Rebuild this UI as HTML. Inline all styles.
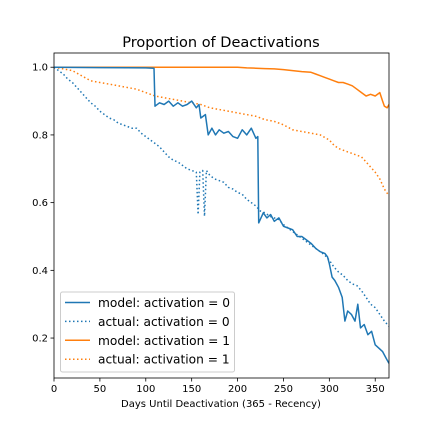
<!DOCTYPE html>
<html><head><meta charset="utf-8"><style>
body{margin:0;background:#fff;}
svg text{font-family:"DejaVu Sans","Liberation Sans",sans-serif;fill:#000;}
</style></head><body>
<svg id="chart" width="432" height="432" xmlns="http://www.w3.org/2000/svg">
<rect width="432" height="432" fill="#fff"/>
<text x="221" y="47" font-size="14.5" text-anchor="middle">Proportion of Deactivations</text>
<g id="series"></g>
<g id="axes"></g>
<text x="221" y="407" font-size="10" text-anchor="middle">Days Until Deactivation (365 - Recency)</text>
<g id="legend"></g>
</svg>
<script>
const xTicks=[0,50,100,150,200,250,300,350];
const yTicks=[0.2,0.4,0.6,0.8,1.0];
const yTickLabels=["0.2","0.4","0.6","0.8","1.0"];
const model0Days=[0,50,100,109,110,115,120,125,130,135,140,145,150,155,158,160,165,168,172,176,180,185,190,195,200,205,210,215,220,222,223,228,232,236,240,245,250,255,260,265,270,275,280,285,290,295,298,300,303,306,310,314,317,320,324,328,331,334,338,342,346,350,354,358,362,365];
const model0Vals=[1.0,0.999,0.998,0.997,0.885,0.895,0.89,0.9,0.885,0.895,0.885,0.89,0.9,0.88,0.89,0.85,0.86,0.8,0.82,0.8,0.815,0.805,0.81,0.795,0.79,0.815,0.8,0.82,0.79,0.795,0.54,0.57,0.555,0.565,0.545,0.555,0.53,0.525,0.52,0.5,0.5,0.49,0.48,0.465,0.455,0.45,0.44,0.42,0.38,0.37,0.35,0.32,0.25,0.28,0.27,0.25,0.3,0.23,0.24,0.21,0.22,0.18,0.17,0.16,0.14,0.125];
const actual0Days=[0,5,10,15,20,25,30,35,40,45,50,55,60,65,70,75,80,85,90,95,100,105,110,115,120,125,130,135,140,145,150,155,157,159,162,164,166,170,175,180,185,190,195,200,205,210,215,220,225,230,235,240,245,250,255,260,265,270,275,280,285,290,295,300,305,310,315,320,325,330,335,340,345,350,355,360,365];
const actual0Vals=[1.0,0.99,0.98,0.965,0.955,0.94,0.925,0.91,0.895,0.885,0.87,0.86,0.85,0.845,0.835,0.83,0.825,0.82,0.82,0.805,0.795,0.785,0.775,0.765,0.75,0.735,0.725,0.72,0.71,0.7,0.695,0.69,0.565,0.69,0.695,0.56,0.695,0.68,0.67,0.665,0.66,0.645,0.64,0.63,0.625,0.61,0.6,0.59,0.575,0.57,0.56,0.555,0.55,0.535,0.525,0.515,0.505,0.495,0.485,0.475,0.465,0.455,0.445,0.43,0.41,0.395,0.385,0.37,0.36,0.355,0.34,0.32,0.3,0.29,0.27,0.25,0.235];
const model1Days=[0,100,200,210,220,230,240,250,260,270,280,285,290,295,300,305,310,315,320,325,330,335,340,345,350,355,358,360,363,365];
const model1Vals=[1.0,1.0,1.0,0.998,0.997,0.996,0.995,0.993,0.99,0.987,0.985,0.98,0.975,0.97,0.965,0.96,0.955,0.955,0.95,0.945,0.935,0.925,0.915,0.92,0.915,0.925,0.9,0.885,0.88,0.89];
const actual1Days=[0,10,20,30,40,50,60,70,80,90,100,110,120,130,140,150,160,170,180,190,200,210,220,230,240,250,260,270,280,290,300,305,310,315,320,325,330,335,340,345,350,355,360,365];
const actual1Vals=[1.0,0.995,0.99,0.975,0.96,0.955,0.95,0.945,0.94,0.935,0.925,0.915,0.91,0.905,0.9,0.895,0.89,0.88,0.875,0.87,0.865,0.86,0.855,0.845,0.84,0.83,0.815,0.81,0.805,0.8,0.785,0.77,0.76,0.755,0.75,0.745,0.74,0.735,0.72,0.705,0.69,0.67,0.64,0.62];
const L=54,R=389,T=53,B=378,X0=0,X1=365,Y0=0.082,Y1=1.042;
const sx=d=>L+(d-X0)/(X1-X0)*(R-L);
const sy=v=>B-(v-Y0)/(Y1-Y0)*(B-T);
const NS="http://www.w3.org/2000/svg";
function mk(tag,attrs,parent){const e=document.createElementNS(NS,tag);for(const k in attrs)e.setAttribute(k,attrs[k]);parent.appendChild(e);return e;}
const sg=document.getElementById('series');
const clip=mk('clipPath',{id:'pc'},sg);mk('rect',{x:L,y:T,width:R-L,height:B-T},clip);
function line(days,vals,color,dash,name){
  const pts=days.map((d,i)=>sx(d).toFixed(1)+','+sy(vals[i]).toFixed(1)).join(' ');
  const p=mk('polyline',{points:pts,fill:'none',stroke:color,'stroke-width':1.5,'clip-path':'url(#pc)','stroke-linejoin':'round'},sg);
  if(dash)p.setAttribute('stroke-dasharray',dash);
  
  
}
line(actual1Days,actual1Vals,'#ff7f0e','1.5,2.5','actual-activation-1-line');
line(model1Days,model1Vals,'#ff7f0e',null,'model-activation-1-line');
line(actual0Days,actual0Vals,'#1f77b4','1.5,2.5','actual-activation-0-line');
line(model0Days,model0Vals,'#1f77b4',null,'model-activation-0-line');
const ag=document.getElementById('axes');
const fr=mk('rect',{x:L,y:T,width:R-L,height:B-T,fill:'none',stroke:'#000','stroke-width':0.8},ag);


xTicks.forEach(t=>{
  mk('line',{x1:sx(t),x2:sx(t),y1:B,y2:B+3.5,stroke:'#000','stroke-width':0.8},ag);
  const tx=mk('text',{x:sx(t),y:B+14,'font-size':10,'text-anchor':'middle'},ag);tx.textContent=t;
  
  
});
yTicks.forEach((t,i)=>{
  mk('line',{x1:L-3.5,x2:L,y1:sy(t),y2:sy(t),stroke:'#000','stroke-width':0.8},ag);
  const tx=mk('text',{x:L-6,y:sy(t)+3.5,'font-size':10,'text-anchor':'end'},ag);tx.textContent=yTickLabels[i];
  
  
});
const lg=document.getElementById('legend');
mk('rect',{x:60.5,y:292,width:174,height:80,rx:2,fill:'#fff','fill-opacity':0.8,stroke:'#ccc','stroke-width':1},lg);
const entries=[['model: activation = 0','#1f77b4',null],['actual: activation = 0','#1f77b4','1.5,2.5'],['model: activation = 1','#ff7f0e',null],['actual: activation = 1','#ff7f0e','1.5,2.5']];
entries.forEach((e,i)=>{
  const y=302.5+i*18.9;
  const g=mk('g',{},lg);
  
  
  const l=mk('line',{x1:65,x2:90,y1:y,y2:y,stroke:e[1],'stroke-width':1.5},g);
  if(e[2])l.setAttribute('stroke-dasharray',e[2]);
  const t=mk('text',{x:98,y:y+4.5,'font-size':12.2},g);t.textContent=e[0];
});
</script>
</body></html>
